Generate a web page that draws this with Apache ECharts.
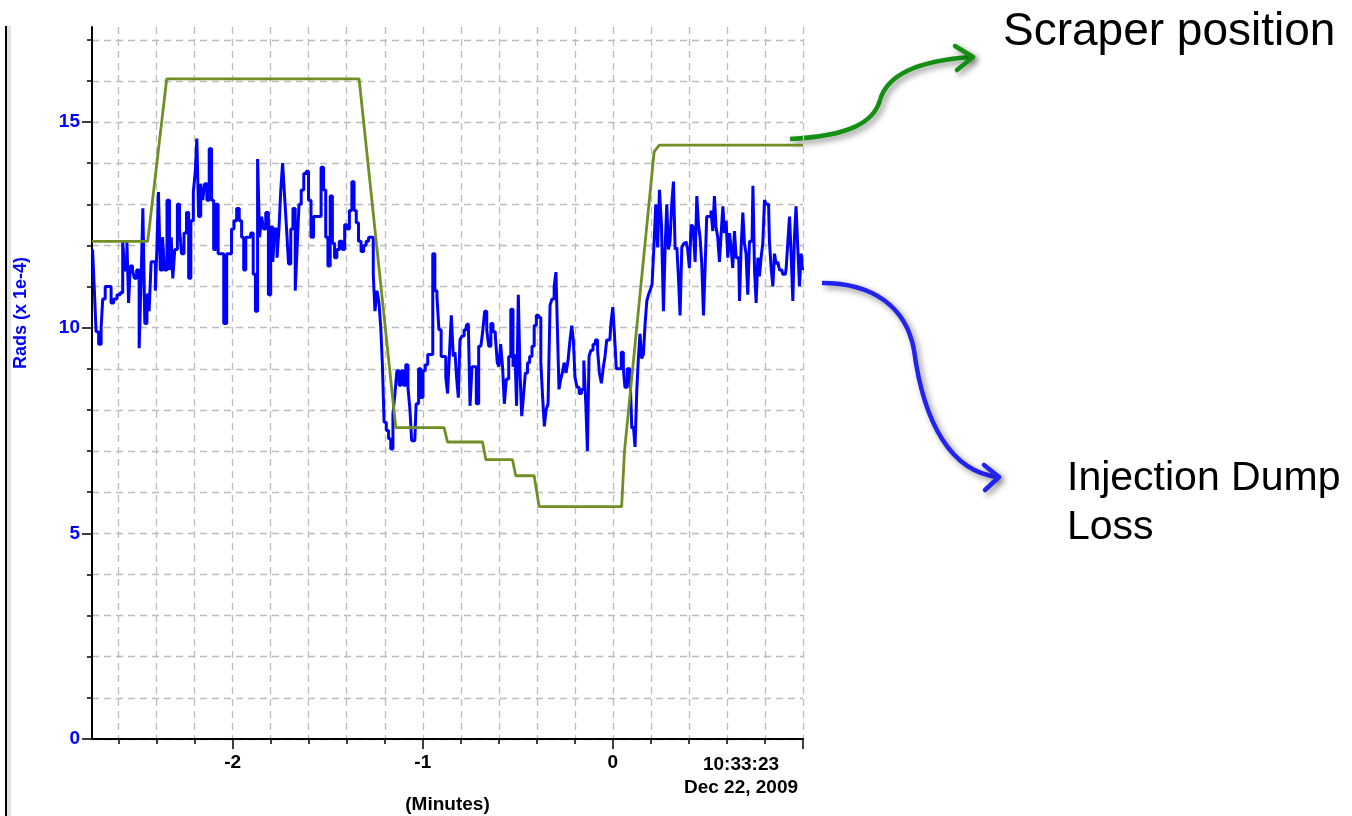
<!DOCTYPE html>
<html>
<head>
<meta charset="utf-8">
<script src="https://cdn.jsdelivr.net/npm/echarts@6/dist/echarts.min.js"></script>
<style>
  html, body { margin: 0; padding: 0; background: #ffffff; }
  #chart { width: 1352px; height: 816px; }
</style>
</head>
<body>
<div id="chart"></div>
<script>
// Injection dump loss (Rads x 1e-4), time in minutes relative to 10:33:22
const lossTime = [
  -2.737,-2.732,-2.723,-2.714,-2.696,-2.688,-2.679,-2.662,-2.644,-2.635,-2.617,-2.600,-2.583,-2.574,-2.562,-2.551,-2.544,-2.533,-2.521,-2.512,
  -2.498,-2.486,-2.477,-2.468,-2.456,-2.446,-2.433,-2.425,-2.411,-2.402,-2.395,-2.386,-2.375,-2.363,-2.354,-2.337,-2.328,-2.319,-2.311,-2.298,
  -2.284,-2.275,-2.263,-2.249,-2.237,-2.226,-2.214,-2.200,-2.193,-2.184,-2.174,-2.162,-2.153,-2.141,-2.130,-2.117,-2.105,-2.095,-2.083,-2.070,
  -2.056,-2.038,-2.025,-2.012,-2.000,-1.986,-1.972,-1.959,-1.947,-1.937,-1.925,-1.912,-1.898,-1.886,-1.875,-1.863,-1.854,-1.842,-1.833,-1.819,
  -1.805,-1.795,-1.783,-1.774,-1.759,-1.753,-1.742,-1.733,-1.721,-1.712,-1.700,-1.689,-1.677,-1.665,-1.656,-1.646,-1.633,-1.619,-1.607,-1.595,
  -1.581,-1.568,-1.554,-1.542,-1.528,-1.516,-1.505,-1.493,-1.481,-1.470,-1.458,-1.446,-1.432,-1.417,-1.405,-1.393,-1.379,-1.367,-1.356,-1.344,
  -1.332,-1.317,-1.305,-1.291,-1.279,-1.265,-1.256,-1.247,-1.235,-1.226,-1.216,-1.209,-1.198,-1.186,-1.174,-1.163,-1.151,-1.142,-1.130,-1.119,
  -1.107,-1.095,-1.084,-1.072,-1.063,-1.054,-1.042,-1.028,-1.016,-1.005,-0.993,-0.981,-0.967,-0.954,-0.941,-0.932,-0.919,-0.911,
  -0.896,-0.884,-0.874,-0.865,-0.856,-0.844,-0.835,-0.826,-0.817,-0.809,-0.800,-0.788,-0.777,-0.765,-0.756,-0.747,-0.735,-0.725,-0.712,-0.700,
  -0.689,-0.681,-0.668,-0.659,-0.647,-0.637,-0.625,-0.612,-0.604,-0.595,-0.586,-0.575,-0.567,-0.554,-0.542,-0.532,-0.519,-0.511,-0.502,-0.493,
  -0.484,-0.475,-0.467,-0.454,-0.444,-0.432,-0.419,-0.409,-0.396,-0.384,-0.374,-0.365,-0.356,-0.347,-0.335,-0.326,-0.314,-0.304,-0.295,-0.288,
  -0.279,-0.270,-0.262,-0.251,-0.242,-0.230,-0.221,-0.212,-0.204,-0.195,-0.183,-0.172,-0.159,-0.147,-0.138,-0.130,-0.121,-0.111,-0.098,-0.086,
  -0.075,-0.067,-0.054,-0.046,-0.037,-0.028,-0.016,-0.005,0.004,0.011,
  0.025,0.037,0.051,0.059,0.068,0.083,0.095,0.104,0.112,0.121,0.130,0.138,0.147,0.156,0.165,0.174,0.183,0.191,0.200,0.212,
  0.221,0.230,0.241,0.249,0.262,0.270,0.279,0.288,0.296,0.305,0.314,0.323,0.332,0.341,0.349,0.358,0.367,0.379,0.389,0.398,
  0.407,0.416,0.428,0.437,0.446,0.454,0.463,0.472,0.481,0.489,0.498,0.511,0.521,0.530,0.538,0.547,0.556,0.565,0.574,0.583,
  0.591,0.600,0.609,0.617,0.626,0.635,0.644,0.653,0.662,0.670,0.679,0.688,0.696,0.705,0.714,0.723,0.732,0.741,0.749,0.758,
  0.767,0.775,0.784,0.793,0.802,0.811,0.819,0.828,0.837,0.846,0.854,0.863,0.872,0.881,0.889,0.898,0.907,0.916,0.925,0.933,
  0.942,0.951,0.959,0.968,0.977,0.986,0.995,1.000
];
const lossRads = [
  11.9,11.9,10.9,9.9,9.6,10.0,10.7,11.0,11.0,10.6,10.7,10.8,10.85,12.1,11.4,12.1,10.6,11.5,11.4,11.2,
  11.4,9.5,11.2,12.9,10.1,10.8,10.4,11.6,11.6,10.9,11.95,13.3,11.4,12.2,11.4,13.1,11.4,12.2,11.2,11.9,
  13.0,12.4,11.8,12.3,12.8,11.2,12.6,13.3,13.8,14.6,12.7,13.5,13.1,13.5,13.1,14.35,13.1,11.9,13.0,11.8,
  11.8,10.1,11.8,11.8,12.4,12.6,12.9,12.6,12.2,11.4,12.2,12.2,12.3,11.3,10.4,14.1,12.2,12.7,12.4,12.8,
  10.8,12.45,11.6,12.4,11.7,12.45,13.3,14.0,13.2,12.4,11.55,12.4,12.9,10.9,12.0,13.0,13.35,13.75,13.8,13.1,
  12.2,12.7,12.7,12.7,13.9,13.35,12.2,11.5,13.2,12.05,11.7,11.9,12.1,11.9,12.5,12.4,12.85,13.55,12.85,12.55,
  12.1,11.85,12.0,12.1,12.2,12.2,11.3,10.4,10.9,10.6,10.0,9.1,7.7,7.5,7.3,7.05,7.9,8.4,8.95,8.6,
  8.95,8.6,9.1,8.55,8.0,7.25,7.25,8.15,9.0,8.3,8.95,9.1,9.35,9.35,11.8,10.9,10.75,9.95,
  9.3,9.3,8.8,8.4,9.3,10.3,9.3,9.4,8.75,8.3,9.7,9.8,9.95,10.05,10.1,8.1,9.05,9.05,8.15,9.55,
  9.55,9.9,10.4,9.95,9.55,10.1,9.9,9.8,9.15,9.05,9.6,9.05,8.15,8.75,9.3,10.45,9.05,9.35,8.1,10.8,
  8.9,7.85,8.3,8.9,9.15,9.3,9.55,10.05,10.3,10.25,9.15,8.3,7.6,8.0,8.15,10.55,10.7,11.0,11.35,9.9,
  8.5,8.75,8.9,9.15,8.9,9.2,9.7,10.05,9.7,8.8,8.55,8.4,8.5,9.2,8.15,7.0,9.3,9.45,9.6,9.7,
  9.45,8.9,8.65,9.05,9.3,9.7,9.7,10.1,10.5,9.9,
  9.0,9.0,9.4,9.0,8.55,9.0,9.0,7.55,7.6,7.1,8.45,9.25,9.85,9.25,9.35,10.1,10.65,10.8,10.9,11.05,
  12.05,13.0,11.95,13.35,12.5,10.4,11.9,13.0,11.9,12.1,13.0,13.55,11.9,11.95,11.2,10.3,11.95,12.05,12.1,11.9,
  11.45,12.5,12.45,11.6,13.2,12.5,12.2,11.55,10.3,11.45,12.7,12.7,12.85,12.35,13.2,12.45,12.2,11.6,12.3,12.95,
  12.3,12.6,11.7,12.3,11.95,11.45,12.35,11.7,11.7,10.65,11.95,12.8,12.05,11.8,10.8,12.1,12.1,13.45,11.4,10.6,
  11.7,11.25,11.7,12.05,13.1,13.0,13.0,12.1,11.45,11.0,11.8,11.55,11.6,11.4,11.4,11.3,11.3,11.45,12.1,12.7,
  11.8,10.65,12.2,12.95,11.95,11.0,11.8,11.4
];

// Scraper position (same vertical scale), time in minutes
const scraperTime = [-2.74, -2.447, -2.347, -1.335, -1.142, -0.888, -0.870, -0.686, -0.668, -0.528, -0.511, -0.414, -0.388, 0.046, 0.061, 0.217, 0.244, 1.0];
const scraperPos  = [12.1, 12.1, 16.05, 16.05, 7.57, 7.57, 7.22, 7.22, 6.79, 6.79, 6.40, 6.40, 5.65, 5.65, 7.0, 14.28, 14.44, 14.44];

// Axis ticks and labels
const xMajorTicks = [-2, -1, 0, 1];
const xMinorTicks = [-2.6, -2.4, -2.2, -2.0, -1.8, -1.6, -1.4, -1.2, -1.0, -0.8, -0.6, -0.4, -0.2, 0, 0.2, 0.4, 0.6, 0.8, 1.0];
const xEndLabel = ['10:33:23', 'Dec 22, 2009'];
const yMajorTicks = [0, 5, 10, 15];
const yMinorTicks = [0, 1, 2, 3, 4, 5, 6, 7, 8, 9, 10, 11, 12, 13, 14, 15, 16, 17];

const X_MIN = -2.74, X_MAX = 1.0, Y_MIN = 0, Y_MAX = 17.31;

const lossData = lossTime.map((t, i) => [t, lossRads[i]]);
const scraperData = scraperTime.map((t, i) => [t, scraperPos[i]]);

const labelFont = { fontFamily: 'Liberation Sans, Arial, sans-serif', fontWeight: 'bold', fontSize: 19 };
const gridDash = { color: '#bdbdbd', width: 1.3, type: [7, 5] };
const arrowShadow = { shadowBlur: 6, shadowColor: 'rgba(0,0,0,0.45)', shadowOffsetX: 3, shadowOffsetY: 3 };

const chart = echarts.init(document.getElementById('chart'), null, { renderer: 'canvas' });

chart.setOption({
  animation: false,
  backgroundColor: '#ffffff',
  grid: { left: 92, right: 549, top: 27, bottom: 77, containLabel: false, outerBoundsMode: 'none' },
  xAxis: [
    {
      type: 'value', position: 'bottom', min: X_MIN, max: X_MAX,
      axisLine: { show: true, onZero: false, lineStyle: { color: '#000', width: 2 } },
      axisTick: { show: true, customValues: xMajorTicks, length: 10, lineStyle: { color: '#000', width: 1.5 } },
      axisLabel: {
        show: true, customValues: xMajorTicks, margin: 14, color: '#000', ...labelFont,
        alignMaxLabel: 'right',
        formatter: v => (v === X_MAX ? '{t|' + xEndLabel[0] + '}\n{t|' + xEndLabel[1] + '}' : String(v)),
        rich: { t: { ...labelFont, color: '#000', width: 124, align: 'center', lineHeight: 23 } }
      },
      splitLine: { show: false },
      name: '(Minutes)', nameLocation: 'middle', nameGap: 56, nameMoveOverlap: false,
      nameTextStyle: { ...labelFont, color: '#000' }
    },
    {
      type: 'value', position: 'bottom', min: X_MIN, max: X_MAX,
      axisLine: { show: false, onZero: false },
      axisTick: { show: true, customValues: xMinorTicks, length: 5, lineStyle: { color: '#000', width: 1.5 } },
      axisLabel: { show: false },
      splitLine: { show: true, lineStyle: gridDash }
    }
  ],
  yAxis: [
    {
      type: 'value', position: 'left', min: Y_MIN, max: Y_MAX,
      axisLine: { show: true, onZero: false, lineStyle: { color: '#000', width: 2 } },
      axisTick: { show: true, customValues: yMajorTicks, length: 10, lineStyle: { color: '#000', width: 1.5 } },
      axisLabel: { show: true, customValues: yMajorTicks, margin: 12, color: '#0000ff', ...labelFont },
      splitLine: { show: false },
      name: 'Rads (x 1e-4)', nameLocation: 'middle', nameRotate: 90, nameGap: 62, nameMoveOverlap: false,
      nameTextStyle: { fontFamily: 'Liberation Sans, Arial, sans-serif', fontWeight: 'bold', fontSize: 18, color: '#0000ff', padding: [0, 0, 0, 140] }
    },
    {
      type: 'value', position: 'left', min: Y_MIN, max: Y_MAX,
      axisLine: { show: false, onZero: false },
      axisTick: { show: true, customValues: yMinorTicks, length: 5, lineStyle: { color: '#000', width: 1.5 } },
      axisLabel: { show: false },
      splitLine: { show: true, lineStyle: gridDash }
    }
  ],
  series: [
    {
      name: 'Injection Dump Loss', type: 'line', xAxisIndex: 0, yAxisIndex: 0,
      data: lossData, step: 'middle', showSymbol: false, symbol: 'none',
      lineStyle: { color: '#0000ff', width: 3 }, z: 3
    },
    {
      name: 'Scraper position', type: 'line', xAxisIndex: 0, yAxisIndex: 0,
      data: scraperData, showSymbol: false, symbol: 'none',
      lineStyle: { color: '#6f8f25', width: 2.8 }, z: 4
    }
  ],
  graphic: [
    // window frame on the left
    { type: 'rect', left: 5, top: 26, shape: { width: 2, height: 790 }, style: { fill: '#000' }, silent: true },
    { type: 'rect', left: 7, top: 26, shape: { width: 4, height: 790 }, style: { fill: '#e2e2e2' }, silent: true },
    // callout arrow to scraper trace
    {
      type: 'group', silent: true, children: [
        { type: 'bezierCurve', shape: { x1: 790, y1: 139, cpx1: 850, cpy1: 136, cpx2: 874, cpy2: 122, x2: 880, y2: 100 },
          style: { stroke: '#139013', lineWidth: 4.5, fill: null, ...arrowShadow } },
        { type: 'bezierCurve', shape: { x1: 880, y1: 100, cpx1: 888, cpy1: 72, cpx2: 925, cpy2: 60, x2: 972, y2: 57 },
          style: { stroke: '#139013', lineWidth: 4.5, fill: null, ...arrowShadow } },
        { type: 'polyline', shape: { points: [[955, 46], [973, 57], [957, 70]] },
          style: { stroke: '#139013', lineWidth: 4.5, fill: null, lineJoin: 'round', lineCap: 'round', ...arrowShadow } }
      ]
    },
    // callout arrow to loss trace
    {
      type: 'group', silent: true, children: [
        { type: 'bezierCurve', shape: { x1: 822, y1: 283, cpx1: 872, cpy1: 283, cpx2: 906, cpy2: 306, x2: 914, y2: 350 },
          style: { stroke: '#2323f0', lineWidth: 4.5, fill: null, ...arrowShadow } },
        { type: 'bezierCurve', shape: { x1: 914, y1: 350, cpx1: 924, cpy1: 425, cpx2: 952, cpy2: 472, x2: 998, y2: 477 },
          style: { stroke: '#2323f0', lineWidth: 4.5, fill: null, ...arrowShadow } },
        { type: 'polyline', shape: { points: [[984, 465], [999, 477], [985, 490]] },
          style: { stroke: '#2323f0', lineWidth: 4.5, fill: null, lineJoin: 'round', lineCap: 'round', ...arrowShadow } }
      ]
    },
    { type: 'text', left: 1003, top: 9, silent: true,
      style: { text: 'Scraper position', font: '46px "Liberation Sans", Arial, sans-serif', fill: '#000' } },
    { type: 'text', left: 1067, top: 454, silent: true,
      style: { text: 'Injection Dump\nLoss', font: '41px "Liberation Sans", Arial, sans-serif', lineHeight: 49, fill: '#000' } }
  ]
});
</script>
</body>
</html>
